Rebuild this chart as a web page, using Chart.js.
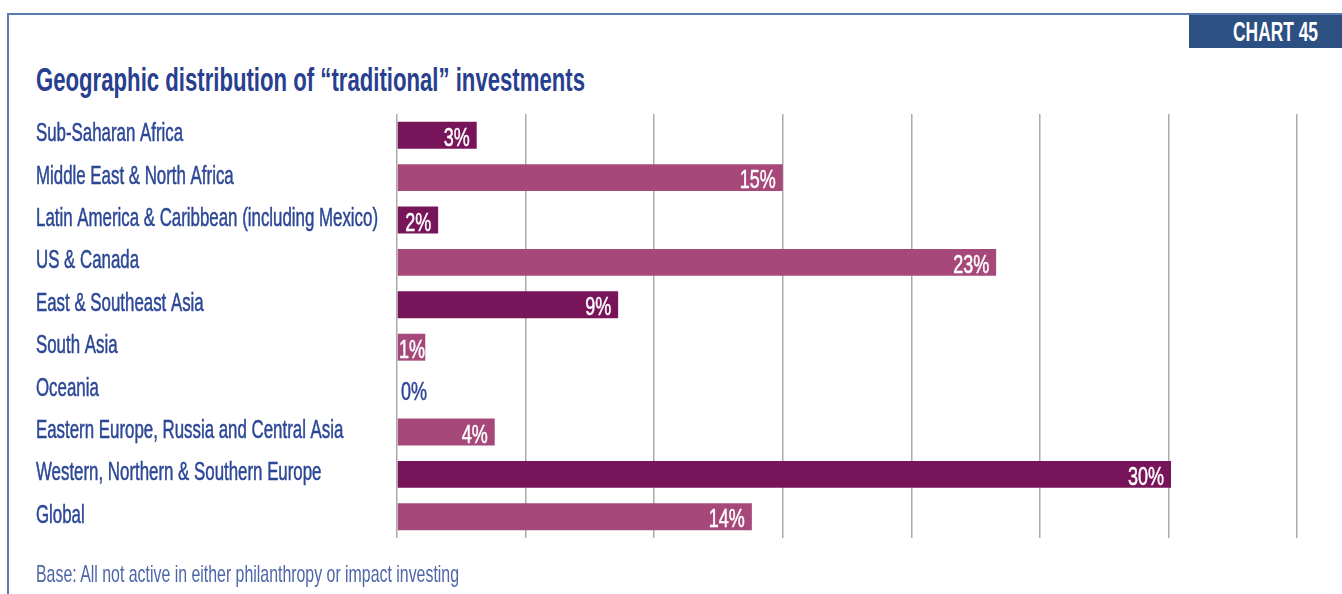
<!DOCTYPE html>
<html>
<head>
<meta charset="utf-8">
<title>Chart 45</title>
<script src="https://cdn.jsdelivr.net/npm/chart.js@4.4.1/dist/chart.umd.min.js"></script>
<style>
    body { margin: 0; background: #fff; }
    #wrap {
        position: relative; width: 1342px; height: 594px; overflow: hidden;
        font-family: 'Liberation Sans Narrow', 'Liberation Sans', Arial, sans-serif;
    }
    #frame {
        position: absolute; left: 7px; top: 13px; right: -5px; bottom: -5px;
        border-top: 2px solid #5a7bb0; border-left: 2px solid #5a7bb0;
    }
    #badge {
        position: absolute; left: 1189px; top: 15px; width: 153px; height: 33px;
        background: #2d5082;
    }
    #badgeText {
        position: absolute; right: 24px; top: 4px; color: #fff;
        font-weight: bold; font-size: 27px; line-height: 27px;
        transform-origin: right top; white-space: nowrap;
    }
    #title {
        position: absolute; left: 36px; top: 63px; color: #283f8f;
        font-weight: bold; font-size: 33px; line-height: 33px;
        transform-origin: left top; white-space: nowrap;
    }
    #note {
        position: absolute; left: 36px; top: 562px; color: #4d66a8;
        font-size: 24px; line-height: 24px;
        transform-origin: left top; white-space: nowrap;
    }
    canvas { position: absolute; left: 0; top: 0; }
</style>
</head>
<body>
<div id="wrap">
    <div id="frame"></div>
    <div id="badge"><span id="badgeText">CHART 45</span></div>
    <span id="title">Geographic distribution of “traditional” investments</span>
    <canvas id="chart" width="1342" height="594"></canvas>
    <span id="note">Base: All not active in either philanthropy or impact investing</span>
</div>

<script>
let regions = [
    "Sub-Saharan Africa",
    "Middle East & North Africa",
    "Latin America & Caribbean (including Mexico)",
    "US & Canada",
    "East & Southeast Asia",
    "South Asia",
    "Oceania",
    "Eastern Europe, Russia and Central Asia",
    "Western, Northern & Southern Europe",
    "Global"
];
// share of investments, % (bar lengths)
let shares = [3.1, 15.0, 1.6, 23.3, 8.6, 1.1, 0, 3.8, 30.1, 13.8];
// printed labels
let shareLabels = ["3%", "15%", "2%", "23%", "9%", "1%", "0%", "4%", "30%", "14%"];
// gridline positions on the value axis
let xMin = 0, xMax = 35, xStep = 5;

const DARK = "#78145a";
const LIGHT = "#a64879";
const TEXT_BLUE = "#2c4796";
const FONT = "'Liberation Sans Narrow', 'Liberation Sans', Arial, sans-serif";

// the original uses a very condensed face, so squeeze text horizontally
function squeezeEl(el, target) {
    el.style.display = "inline-block";
    let w = el.getBoundingClientRect().width;
    el.style.transform = "scaleX(" + (target / w) + ")";
}
squeezeEl(document.getElementById("title"), 549);
squeezeEl(document.getElementById("badgeText"), 85);
squeezeEl(document.getElementById("note"), 423);

function squeezeFactor(ctx, font, text, target) {
    ctx.save();
    ctx.font = font;
    let w = ctx.measureText(text).width;
    ctx.restore();
    return target / w;
}

// fill + a thin stroke so the text looks a bit heavier, like the original
function drawSqueezed(ctx, text, x, y, sx, align) {
    ctx.save();
    ctx.translate(x, y);
    ctx.scale(sx, 1);
    ctx.textAlign = align;
    ctx.strokeStyle = ctx.fillStyle;
    ctx.lineWidth = 0.5;
    ctx.fillText(text, 0, 0);
    ctx.strokeText(text, 0, 0);
    ctx.restore();
}

const labelFont = "25px " + FONT;
const valueFont = "25px " + FONT;

// category names on the left + value labels on the bars
const textPlugin = {
    id: "texts",
    afterDatasetsDraw(chart) {
        let ctx = chart.ctx;
        let yScale = chart.scales.y;
        let xScale = chart.scales.x;
        let sxLabel = squeezeFactor(ctx, labelFont, regions[2], 342);
        let sxValue = squeezeFactor(ctx, valueFont, "30%", 36);

        ctx.save();
        ctx.textBaseline = "alphabetic";
        ctx.font = labelFont;
        ctx.fillStyle = TEXT_BLUE;
        regions.forEach((r, i) => {
            let y = yScale.getPixelForValue(i);
            drawSqueezed(ctx, r, 36, y + 6, sxLabel, "left");
        });

        ctx.font = valueFont;
        let meta = chart.getDatasetMeta(0);
        meta.data.forEach((bar, i) => {
            let base = xScale.getPixelForValue(0);
            let end = bar.x;
            let txt = shareLabels[i];
            let w = ctx.measureText(txt).width * sxValue;
            if (shares[i] === 0) {
                ctx.fillStyle = TEXT_BLUE;
                drawSqueezed(ctx, txt, base + 4, bar.y + 10.5, sxValue, "left");
                return;
            }
            let x = Math.max(end - 7, base + 2 + w);
            ctx.save();
            ctx.beginPath();
            ctx.rect(base, bar.y - bar.height / 2, end - base, bar.height);
            ctx.clip();
            ctx.fillStyle = "#ffffff";
            drawSqueezed(ctx, txt, x, bar.y + 10.5, sxValue, "right");
            ctx.restore();
        });
        ctx.restore();
    }
};

let chart = new Chart(document.getElementById("chart").getContext("2d"), {
    type: "bar",
    data: {
        labels: regions,
        datasets: [{
            data: shares,
            backgroundColor: regions.map((r, i) => i % 2 === 0 ? DARK : LIGHT),
            borderWidth: 0,
            categoryPercentage: 1,
            barPercentage: 0.635
        }]
    },
    options: {
        indexAxis: "y",
        responsive: false,
        animation: false,
        layout: { padding: { left: 397, right: 45, top: 114, bottom: 56 } },
        plugins: {
            legend: { display: false },
            tooltip: { enabled: false }
        },
        scales: {
            x: {
                min: xMin,
                max: xMax,
                ticks: { display: false, stepSize: xStep },
                grid: { color: "#aaaaaa", lineWidth: 1.5, drawTicks: false },
                border: { display: false }
            },
            y: { display: false }
        }
    },
    plugins: [textPlugin]
});
</script>
</body>
</html>
